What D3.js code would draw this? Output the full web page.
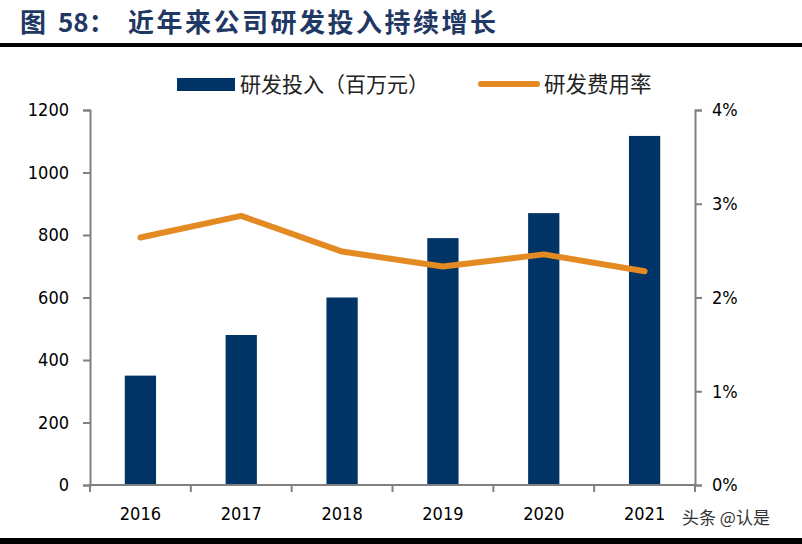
<!DOCTYPE html>
<html>
<head>
<meta charset="utf-8">
<script src="https://cdn.jsdelivr.net/npm/d3@7"></script>
<style>
  body { margin: 0; background: #fff; }
  text { font-family: "Liberation Sans Narrow", "DejaVu Sans Condensed", sans-serif; }
  .cjk { font-family: "Noto Sans CJK SC", sans-serif; }
</style>
</head>
<body>
<script>
// data
var years = ["2016", "2017", "2018", "2019", "2020", "2021"]
var rdSpend = [350, 480, 600, 790, 870, 1117]          // 百万元
var rdRate = [0.0264, 0.0287, 0.0249, 0.0233, 0.0246, 0.0228]
var leftTicks = [0, 200, 400, 600, 800, 1000, 1200]
var rightTicks = [0, 0.01, 0.02, 0.03, 0.04]

var W = 802, H = 544
var navy = "#003366", orange = "#E38A23", axisGray = "#808080"

var svg = d3.select("body").append("svg").attr("width", W).attr("height", H)

// title
var title = svg.append("text")
  .attr("class", "cjk")
  .attr("x", 20).attr("y", 32)
  .attr("fill", "#1F3864")
  .attr("font-size", 26).attr("font-weight", "bold")
title.append("tspan").text("图")
title.append("tspan").attr("x", 58).text("58：")
title.append("tspan").attr("x", 128).attr("letter-spacing", 2.5).text("近年来公司研发投入持续增长")
svg.append("rect").attr("x", 0).attr("y", 43).attr("width", W).attr("height", 4).attr("fill", "#000")
svg.append("rect").attr("x", 0).attr("y", 538).attr("width", W).attr("height", 6).attr("fill", "#000")

var x0 = 90, x1 = 695, yTop = 110, yBot = 485

var x = d3.scaleBand().domain(years).range([x0, x1]).paddingInner(0.69).paddingOuter(0.345)
var yL = d3.scaleLinear().domain([0, 1200]).range([yBot, yTop])
var yR = d3.scaleLinear().domain([0, 0.04]).range([yBot, yTop])

// bars
svg.selectAll("rect.bar")
  .data(rdSpend)
  .enter()
  .append("rect")
  .attr("class", "bar")
  .attr("x", function(d, i) { return x(years[i]) })
  .attr("width", x.bandwidth())
  .attr("y", function(d) { return yL(d) })
  .attr("height", function(d) { return yBot - yL(d) })
  .attr("fill", navy)

// rate line
var line = d3.line()
  .x(function(d, i) { return x(years[i]) + x.bandwidth() / 2 })
  .y(function(d) { return yR(d) })
svg.append("path")
  .datum(rdRate)
  .attr("d", line)
  .attr("fill", "none")
  .attr("stroke", orange)
  .attr("stroke-width", 6)
  .attr("stroke-linejoin", "round")
  .attr("stroke-linecap", "round")

// axes
function styleAxis(g) {
  g.selectAll(".domain").attr("stroke", axisGray).attr("stroke-width", 2)
  g.selectAll(".tick line").attr("stroke", axisGray).attr("stroke-width", 2)
  g.selectAll(".tick text").attr("fill", "#000").attr("font-size", 18)
    .style("font-family", "'Liberation Sans Narrow', 'DejaVu Sans Condensed', sans-serif")
}

var leftAxis = svg.append("g").attr("transform", "translate(" + x0 + ",0)")
  .call(d3.axisLeft(yL).tickValues(leftTicks).tickFormat(d3.format("d")).tickSize(7).tickSizeOuter(7).tickPadding(14))
styleAxis(leftAxis)

var rightAxis = svg.append("g").attr("transform", "translate(" + x1 + ",0)")
  .call(d3.axisRight(yR).tickValues(rightTicks).tickFormat(d3.format(".0%")).tickSize(7).tickSizeOuter(7).tickPadding(10))
styleAxis(rightAxis)

var bottomAxis = svg.append("g").attr("transform", "translate(0," + yBot + ")")
  .call(d3.axisBottom(x).tickSize(0).tickPadding(22))
styleAxis(bottomAxis)
bottomAxis.select(".domain").attr("d", "M" + x0 + ",0H" + x1)

// category separator ticks under the x axis
var seps = d3.range(years.length + 1).map(function(i) { return x0 + i * (x1 - x0) / years.length })
svg.selectAll("line.sep")
  .data(seps)
  .enter()
  .append("line")
  .attr("class", "sep")
  .attr("x1", function(d) { return d }).attr("x2", function(d) { return d })
  .attr("y1", yBot).attr("y2", yBot + 7)
  .attr("stroke", axisGray).attr("stroke-width", 2)

// legend
svg.append("rect").attr("x", 177).attr("y", 78).attr("width", 58).attr("height", 13).attr("fill", navy)
svg.append("text").attr("class", "cjk").attr("x", 240).attr("y", 92)
  .attr("font-size", 21).attr("fill", "#222").text("研发投入（百万元）")
svg.append("line").attr("x1", 481).attr("x2", 537).attr("y1", 84).attr("y2", 84)
  .attr("stroke", orange).attr("stroke-width", 6).attr("stroke-linecap", "round")
svg.append("text").attr("class", "cjk").attr("x", 544).attr("y", 92)
  .attr("font-size", 21.5).attr("fill", "#222").text("研发费用率")

// watermark
svg.append("text").attr("class", "cjk").attr("x", 682).attr("y", 524)
  .attr("font-size", 17).attr("fill", "#333").text("头条 @认是")
</script>
</body>
</html>
